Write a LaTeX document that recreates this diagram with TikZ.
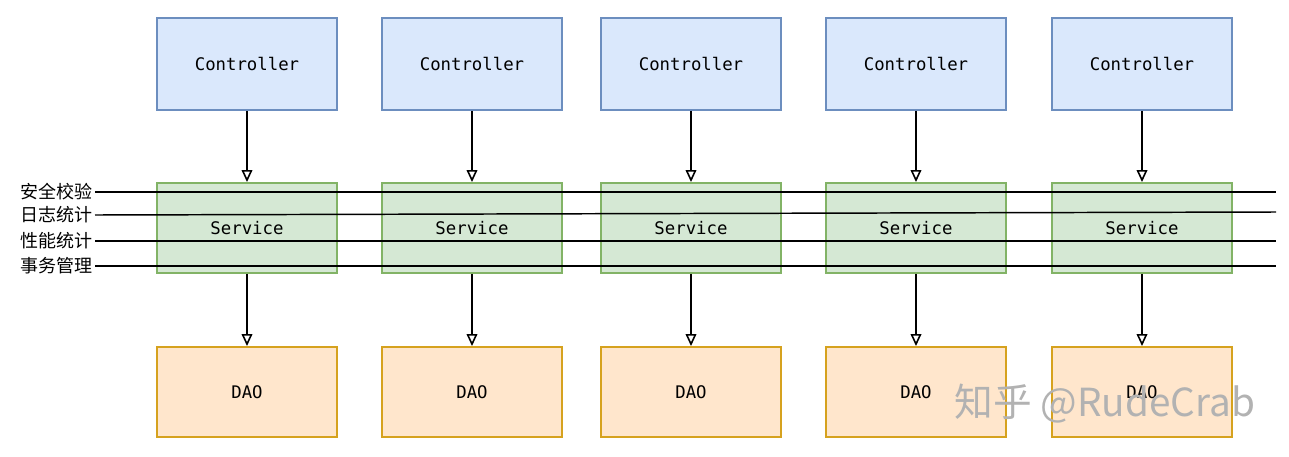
\documentclass[tikz,border=0pt]{standalone}
\usepackage{fontspec}
\setmonofont{DejaVu Sans Mono}
\newfontfamily\cjk{Noto Sans CJK SC}
\usetikzlibrary{arrows.meta}

\definecolor{ctrlfill}{HTML}{DAE8FC}
\definecolor{ctrldraw}{HTML}{6C8EBF}
\definecolor{svcfill}{HTML}{D5E8D4}
\definecolor{svcdraw}{HTML}{82B366}
\definecolor{daofill}{HTML}{FFE6CC}
\definecolor{daodraw}{HTML}{D6A21E}

\begin{document}
\begin{tikzpicture}[x=0.75pt,y=-0.75pt,
  font=\ttfamily\fontsize{13}{15}\selectfont,
  box/.style={draw,line width=1.4pt,minimum width=135pt,minimum height=67.5pt,inner sep=0pt},
  ctrlbox/.style={box,fill=ctrlfill,draw=ctrldraw,minimum height=69pt},
  svcbox/.style={box,fill=svcfill,draw=svcdraw},
  daobox/.style={box,fill=daofill,draw=daodraw},
  aspect/.style={font=\cjk\fontsize{13.5}{15}\selectfont,anchor=east,inner sep=2pt},
  flow/.style={line width=1.2pt,-{Triangle[open,length=9pt,width=8pt]}}]
\useasboundingbox (0,0) rectangle (1289,457);
\node[ctrlbox] (c1) at (247,64) {Controller};
\node[ctrlbox] (c2) at (472,64) {Controller};
\node[ctrlbox] (c3) at (691,64) {Controller};
\node[ctrlbox] (c4) at (916,64) {Controller};
\node[ctrlbox] (c5) at (1142,64) {Controller};
\node[svcbox] (s1) at (247,228) {Service};
\node[svcbox] (s2) at (472,228) {Service};
\node[svcbox] (s3) at (691,228) {Service};
\node[svcbox] (s4) at (916,228) {Service};
\node[svcbox] (s5) at (1142,228) {Service};
\node[daobox] (d1) at (247,392) {DAO};
\node[daobox] (d2) at (472,392) {DAO};
\node[daobox] (d3) at (691,392) {DAO};
\node[daobox] (d4) at (916,392) {DAO};
\node[daobox] (d5) at (1142,392) {DAO};
\draw[flow] (c1) -- (s1);
\draw[flow] (c2) -- (s2);
\draw[flow] (c3) -- (s3);
\draw[flow] (c4) -- (s4);
\draw[flow] (c5) -- (s5);
\draw[flow] (s1) -- (d1);
\draw[flow] (s2) -- (d2);
\draw[flow] (s3) -- (d3);
\draw[flow] (s4) -- (d4);
\draw[flow] (s5) -- (d5);
% cross-cutting concerns
\node[aspect] (a1) at (95,192) {安全校验};
\node[aspect] (a2) at (95,215) {日志统计};
\node[aspect] (a3) at (95,241) {性能统计};
\node[aspect] (a4) at (95,266) {事务管理};
\coordinate (e1) at (1276,192);
\coordinate (e2) at (1276,212);
\coordinate (e3) at (1276,241);
\coordinate (e4) at (1276,266);
\draw[line width=1.1pt] (a1.east) -- (e1);
\draw[line width=1.1pt] (a2.east) -- (e2);
\draw[line width=1.1pt] (a3.east) -- (e3);
\draw[line width=1.1pt] (a4.east) -- (e4);
\node[font=\cjk\fontsize{29}{32}\selectfont,text=black!30] (mark) at (1105,404) {知乎 @RudeCrab};
\end{tikzpicture}
\end{document}
